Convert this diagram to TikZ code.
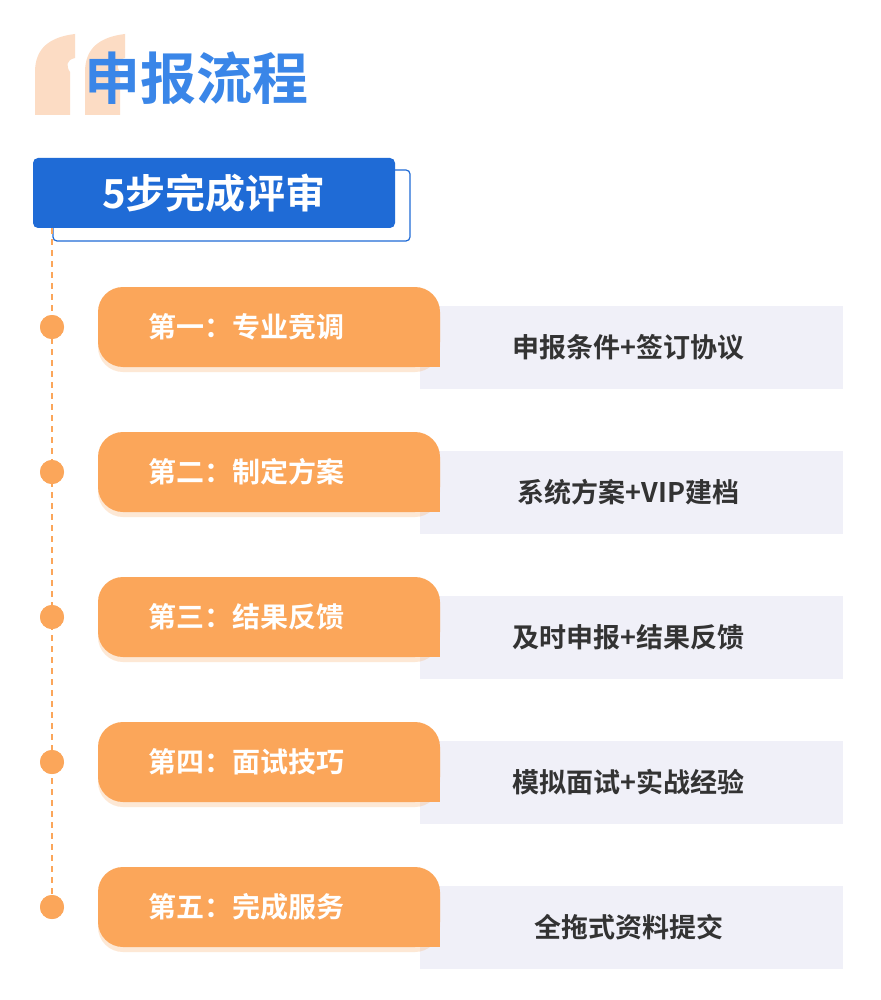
\documentclass[tikz,border=0pt]{standalone}
\usepackage{fontspec}
\setmainfont{Noto Sans CJK SC}[BoldFont={Noto Sans CJK SC Bold}]
\usetikzlibrary{positioning,shadows}
\definecolor{titleblue}{HTML}{3A86E8}
\definecolor{boxblue}{HTML}{1F6BD6}
\definecolor{steporange}{HTML}{FBA65A}
\definecolor{quotepeach}{HTML}{FCDCC4}
\definecolor{notegrey}{HTML}{F0F0F8}
\definecolor{notetext}{HTML}{333333}
\tikzset{
  stepbox/.style={fill=steporange, rounded corners=25pt, minimum width=342pt,
    minimum height=80pt, text=white, font=\bfseries\fontsize{28}{30}\selectfont,
    drop shadow={fill=steporange, opacity=0.25, shadow xshift=0pt, shadow yshift=-5pt}},
  notebox/.style={fill=notegrey, minimum width=423pt, minimum height=83pt,
    text=notetext, font=\bfseries\fontsize{27}{30}\selectfont},
  dot/.style={circle, fill=steporange, minimum size=24pt, inner sep=0pt}
}
\begin{document}
\begin{tikzpicture}[x=1pt,y=-1pt]
  \useasboundingbox (0,0) rectangle (880,1000);
  \fill[white] (0,0) rectangle (880,1000);

  % quote marks
  \fill[quotepeach] (35,115) -- (35,72) .. controls (35,48) and (50,37) .. (75,34)
    -- (75,58) .. controls (66,60) and (66,66) .. (70,72) -- (70,115) -- cycle;
  \fill[quotepeach] (85,115) -- (85,72) .. controls (85,48) and (100,37) .. (125,34)
    -- (125,58) .. controls (116,60) and (116,66) .. (120,72) -- (120,115) -- cycle;

  % title
  \node[anchor=west, text=titleblue, font=\bfseries\fontsize{56}{60}\selectfont,
    inner sep=0pt] (title) at (84,78) {申报流程};

  % header box
  \draw[boxblue, line width=1.2pt, rounded corners=4pt] (53,170) rectangle (410,241);
  \node[fill=boxblue, rounded corners=5pt, minimum width=362pt, minimum height=70pt,
    text=white, font=\bfseries\fontsize{40}{44}\selectfont] (head) at (214,193) {5步完成评审};
  \coordinate (linetop) at (52,228);

  % steps
  \foreach \i/\step/\note in {1/第一：专业竞调/申报条件+签订协议,
      2/第二：制定方案/系统方案+VIP建档,
      3/第三：结果反馈/及时申报+结果反馈,
      4/第四：面试技巧/模拟面试+实战经验,
      5/第五：完成服务/全拖式资料提交} {
    \pgfmathsetmacro{\yy}{327+145*(\i-1)}
    \node[notebox] (note\i) at (631.5,\yy+20.5) {\hspace*{-6pt}\note};
    \node[stepbox] (step\i) at (269,\yy) {\hspace*{-45pt}\step};
    \fill[steporange] (step\i.center) ++(120,0) rectangle (step\i.south east);
    \node[dot] (dot\i) at (52,\yy) {};
  }

  % timeline
  \draw[steporange, line width=1.5pt, dash pattern=on 6pt off 5pt] (linetop) -- (dot5);
  \foreach \i in {1,...,5} \node[dot] at (dot\i) {};
\end{tikzpicture}
\end{document}
